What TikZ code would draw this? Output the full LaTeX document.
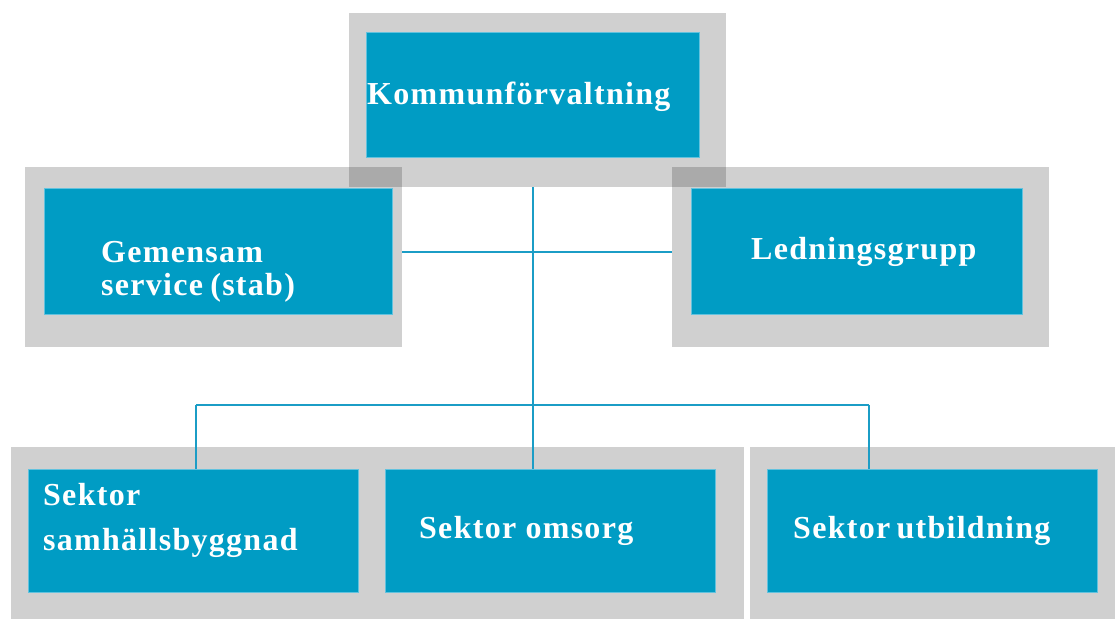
\documentclass[tikz,border=0pt]{standalone}
\usepackage{fontspec}
\setmainfont{Liberation Serif}
\newfontfamily\boxfont[LetterSpace=4]{Liberation Serif}
\definecolor{bluefill}{HTML}{009CC4}
\definecolor{blueedge}{HTML}{62C2DE}
\definecolor{linecol}{HTML}{1B9DC6}
\tikzset{
  graybox/.style={fill=black, fill opacity=0.185, draw=none, inner sep=0pt, anchor=north west},
  bluebox/.style={fill=bluefill, draw=blueedge, line width=0.8pt, inner sep=0pt, anchor=north west},
  lbl/.style={text=white, font=\boxfont\bfseries\fontsize{32}{35}\selectfont, anchor=base west, inner sep=0pt},
  conn/.style={draw=linecol, line width=1.3pt}
}
\begin{document}
\begin{tikzpicture}[x=1pt,y=-1pt]
\useasboundingbox (0,0) rectangle (1115,619);
% gray frames
\node[graybox, minimum width=377pt, minimum height=174pt] (topgray) at (349,13) {};
\node[graybox, minimum width=377pt, minimum height=180pt] (leftgray) at (25,167) {};
\node[graybox, minimum width=377pt, minimum height=180pt] (rightgray) at (672,167) {};
\node[graybox, minimum width=733pt, minimum height=172pt] (botgrayL) at (11,447) {};
\node[graybox, minimum width=365pt, minimum height=172pt] (botgrayR) at (750,447) {};
% blue boxes
\node[bluebox, minimum width=333pt, minimum height=125pt] (topblue) at (366,32) {};
\node[bluebox, minimum width=348pt, minimum height=126pt] (leftblue) at (44,188) {};
\node[bluebox, minimum width=331pt, minimum height=126pt] (rightblue) at (691,188) {};
\node[bluebox, minimum width=330pt, minimum height=123pt] (samblue) at (28,469) {};
\node[bluebox, minimum width=330pt, minimum height=123pt] (omsblue) at (385,469) {};
\node[bluebox, minimum width=330pt, minimum height=123pt] (utbblue) at (767,469) {};
% labels
\node[lbl] (t1) at (367,104) {Kommunförvaltning};
\node[lbl] (t2a) at (101,262) {Gemensam};
\node[lbl] (t2b) at (101,295) {service\hspace{-2pt} (stab)};
\node[lbl] (t3) at (751,259) {Ledningsgrupp};
\node[lbl] (t4a) at (43,505) {Sektor};
\node[lbl] (t4b) at (43,550) {samhällsbyggnad};
\node[lbl] (t5) at (419,538) {Sektor omsorg};
\node[lbl] (t6) at (793,538) {Sektor\hspace{-3pt} utbildning};
% junction coordinates
\coordinate (j0) at (533,187);
\coordinate (j1) at (533,252);
\coordinate (jl) at (196,405);
\coordinate (jr) at (869,405);
% connectors
\draw[conn] (j0) -- (j0 |- omsblue.north);
\draw[conn] (leftgray.east |- j1) -- (rightgray.west |- j1);
\draw[conn] (jl) -- (jr);
\draw[conn] (jl) -- (jl |- samblue.north);
\draw[conn] (jr) -- (jr |- utbblue.north);
\end{tikzpicture}
\end{document}
